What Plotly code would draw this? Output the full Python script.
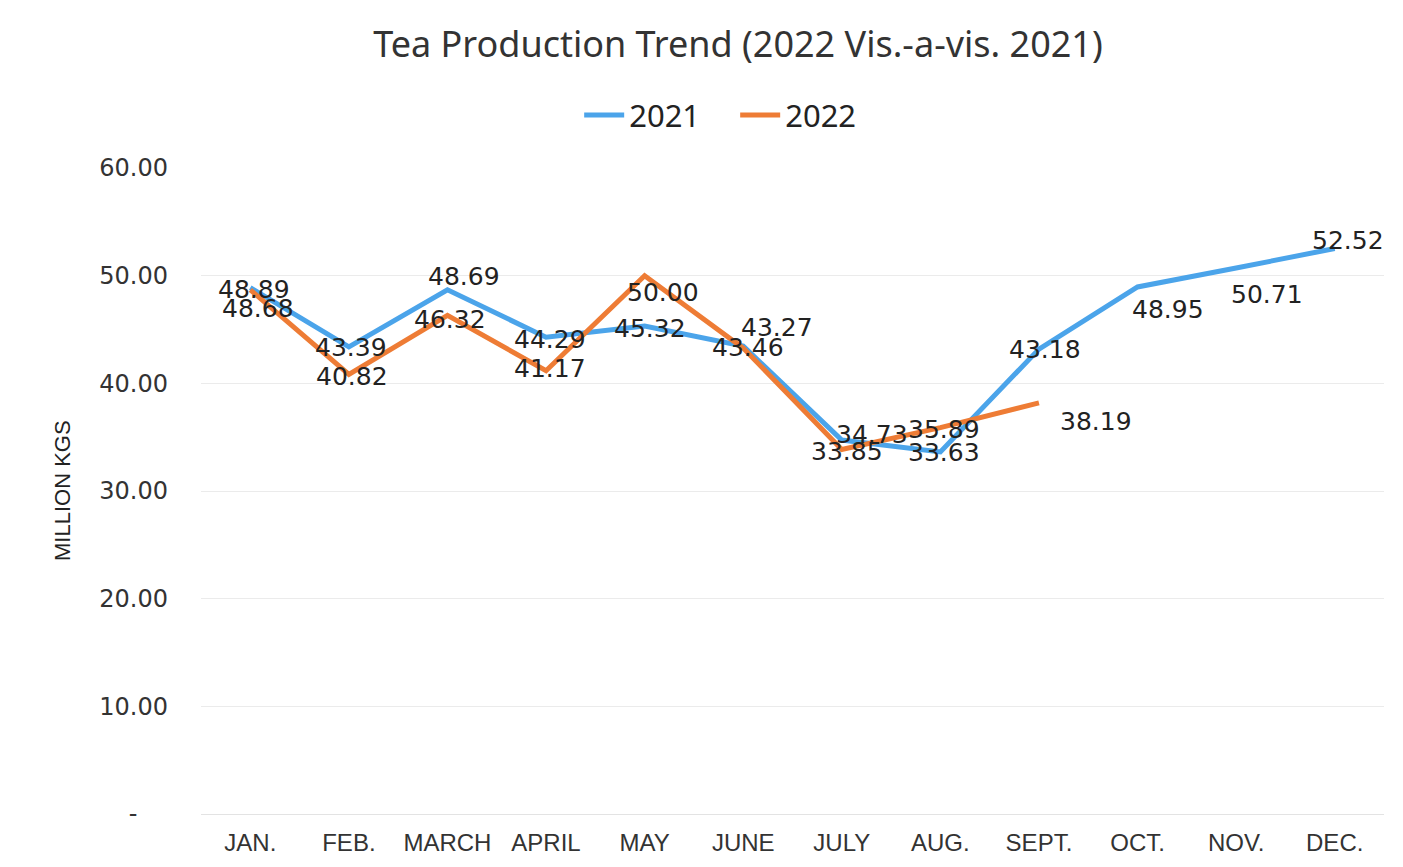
import plotly.graph_objects as go

months = ["JAN.", "FEB.", "MARCH", "APRIL", "MAY", "JUNE", "JULY", "AUG.", "SEPT.", "OCT.", "NOV.", "DEC."]
prod_2021 = [48.89, 43.39, 48.69, 44.29, 45.32, 43.46, 34.73, 33.63, 43.18, 48.95, 50.71, 52.52]
prod_2022 = [48.68, 40.82, 46.32, 41.17, 50.00, 43.27, 33.85, 35.89, 38.19]
y_tick_vals = [0, 10, 20, 30, 40, 50, 60]
y_tick_text = ["-\u00a0\u00a0\u00a0\u00a0", "10.00", "20.00", "30.00", "40.00", "50.00", "60.00"]

# label offsets (pixels, dx right, dy down) - styling only
off_2021 = [(4, 2), (2, 1), (17, -13), (4, 2), (5, 2), (5, 1), (30, -6), (4, 1), (6, 0), (30, 23), (31, 26), (13, -8)]
off_2022 = [(8, 19), (3, 2), (3, 4), (4, -2), (18, 17), (34, -21), (5, 2), (4, 2), (57, 19)]

BLUE = "#4ba4ea"
ORANGE = "#ee7c35"

fig = go.Figure()
fig.add_trace(go.Scatter(x=months, y=prod_2021, mode="lines", name="2021",
                         line=dict(color=BLUE, width=5)))
fig.add_trace(go.Scatter(x=months[:len(prod_2022)], y=prod_2022, mode="lines", name="2022",
                         line=dict(color=ORANGE, width=5)))

annotations = []
for vals, offs in ((prod_2021, off_2021), (prod_2022, off_2022)):
    for m, v, (dx, dy) in zip(months, vals, offs):
        annotations.append(dict(x=m, y=v, xref="x", yref="y", text=f"{v:.2f}",
                                showarrow=False, xshift=dx, yshift=-dy,
                                font=dict(family="DejaVu Sans", size=25, color="#222222")))

annotations.append(dict(x=0, y=0.5, xref="paper", yref="paper", text="MILLION KGS",
                        textangle=-90, showarrow=False, xanchor="center", yanchor="middle",
                        xshift=-139,
                        font=dict(family="Liberation Sans", size=22, color="#222222")))

fig.update_layout(
    width=1403, height=867,
    paper_bgcolor="white", plot_bgcolor="white",
    margin=dict(l=201, r=19, t=168, b=53, autoexpand=False),
    title=dict(text="Tea Production Trend (2022 Vis.-a-vis. 2021)", x=0.526, xanchor="center",
               xref="container", yref="container",
               y=0.949, yanchor="middle",
               font=dict(family="Noto Sans", size=36, color="#333333")),
    legend=dict(orientation="h", xref="container", yref="container",
                x=0.524, xanchor="center", y=0.867, yanchor="middle",
                font=dict(family="Noto Sans", size=31, color="#222222"),
                itemwidth=40, entrywidth=101, traceorder="normal"),
    showlegend=True,
    annotations=annotations,
)
fig.update_xaxes(range=[-0.5, 11.5], showgrid=False, showline=False, zeroline=False, ticks="",
                 tickfont=dict(family="Liberation Sans", size=24, color="#333333"),
                 ticklabelstandoff=12)
fig.update_yaxes(range=[0, 60], tickvals=y_tick_vals, ticktext=y_tick_text,
                 showgrid=True, gridcolor="#ebebeb", gridwidth=1,
                 zeroline=True, zerolinecolor="#e3e3e3", zerolinewidth=1,
                 showline=False, ticks="",
                 tickfont=dict(family="DejaVu Sans", size=24, color="#333333"),
                 ticklabelstandoff=32)

fig.write_html("out.html", config={"displayModeBar": False},
               post_script="document.body.style.margin='0';document.body.style.overflow='hidden';")
